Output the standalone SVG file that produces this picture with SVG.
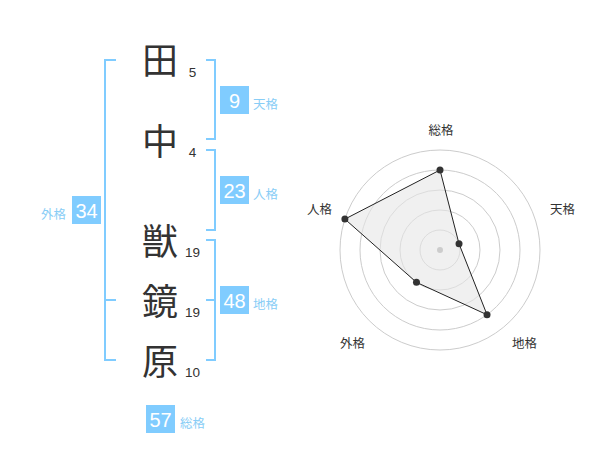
<svg xmlns="http://www.w3.org/2000/svg" width="600" height="470" viewBox="0 0 600 470">
<style>
.ch{font-family:"Noto Sans CJK JP","Noto Sans CJK SC",sans-serif;font-size:36px;fill:#333;text-anchor:middle}
.num{font-family:"Liberation Sans",Arial,sans-serif;font-size:13.5px;fill:#333;text-anchor:middle}
.box{fill:#80ccff}
.bn{font-family:"Liberation Sans",Arial,sans-serif;font-size:20px;fill:#fff;text-anchor:middle}
.lb{font-family:"Noto Sans CJK JP","Noto Sans CJK SC",sans-serif;font-size:12.5px;fill:#88cdf6}
.br{fill:none;stroke:#80ccff;stroke-width:2}
.ring{fill:none;stroke:#cccccc;stroke-width:1}
.rl{font-family:"Noto Sans CJK JP","Noto Sans CJK SC",sans-serif;font-size:12.5px;fill:#333}
.dot{fill:#333}
</style>
<rect width="600" height="470" fill="#fff"/>
<g id="connectors">
<path class="br" d="M116,60 H105 V360 H116 M105,300 H116"/>
<path class="br" d="M206,60 H215 V139 H206"/>
<path class="br" d="M206,150 H215 V230 H206"/>
<path class="br" d="M206,240 H215 V360 H206 M206,300 H215"/>
</g>
<g id="char1"><text class="ch" x="160" y="74">田</text><text class="num" x="192.5" y="77">5</text></g>
<g id="char2"><text class="ch" x="160" y="155">中</text><text class="num" x="192.5" y="157">4</text></g>
<g id="char3"><text class="ch" x="160" y="255">獣</text><text class="num" x="192.5" y="257">19</text></g>
<g id="char4"><text class="ch" x="160" y="315">鏡</text><text class="num" x="192.5" y="317">19</text></g>
<g id="char5"><text class="ch" x="160" y="375">原</text><text class="num" x="192.5" y="377">10</text></g>
<g id="tenkaku"><rect class="box" x="220" y="86" width="29" height="28"/><text class="bn" x="234.5" y="108">9</text><text class="lb" x="253" y="109">天格</text></g>
<g id="jinkaku"><rect class="box" x="220" y="176" width="29" height="28"/><text class="bn" x="234.5" y="198">23</text><text class="lb" x="253" y="199">人格</text></g>
<g id="chikaku"><rect class="box" x="220" y="286" width="29" height="28"/><text class="bn" x="234.5" y="308">48</text><text class="lb" x="253" y="309">地格</text></g>
<g id="gaikaku"><rect class="box" x="72" y="196" width="29" height="28"/><text class="bn" x="86.5" y="218">34</text><text class="lb" x="41" y="219">外格</text></g>
<g id="soukaku"><rect class="box" x="146" y="405" width="29" height="28"/><text class="bn" x="160.5" y="427">57</text><text class="lb" x="180" y="428">総格</text></g>
<g id="radar">
<circle class="ring" cx="440" cy="250" r="20"/>
<circle class="ring" cx="440" cy="250" r="40"/>
<circle class="ring" cx="440" cy="250" r="60"/>
<circle class="ring" cx="440" cy="250" r="80"/>
<circle class="ring" cx="440" cy="250" r="100"/>
<polygon points="440,170 459.02,243.82 487.02,314.72 416.49,282.36 344.89,219.10" fill="#e6e6e6" fill-opacity="0.6" stroke="#222" stroke-width="1"/>
<circle cx="440" cy="250" r="3" fill="#cccccc"/>
<circle class="dot" cx="440" cy="170" r="3.5"/>
<circle class="dot" cx="459.02" cy="243.82" r="3.5"/>
<circle class="dot" cx="487.02" cy="314.72" r="3.5"/>
<circle class="dot" cx="416.49" cy="282.36" r="3.5"/>
<circle class="dot" cx="344.89" cy="219.10" r="3.5"/>
<text class="rl" x="441" y="135" text-anchor="middle">総格</text>
<text class="rl" x="550" y="214">天格</text>
<text class="rl" x="307" y="214">人格</text>
<text class="rl" x="340" y="348">外格</text>
<text class="rl" x="512" y="348">地格</text>
</g>
</svg>
